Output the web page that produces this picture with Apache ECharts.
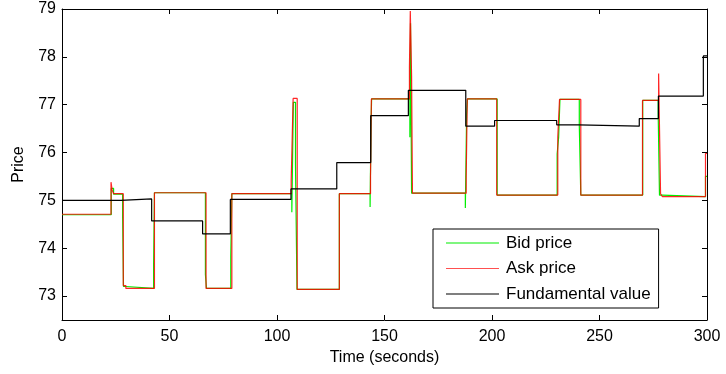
<!DOCTYPE html>
<html>
<head>
<meta charset="utf-8">
<script src="https://cdn.jsdelivr.net/npm/echarts@6/dist/echarts.min.js"></script>
<style>
  html, body { margin: 0; padding: 0; background: #fff; }
  #chart { width: 726px; height: 374px; }
</style>
</head>
<body>
<div id="chart"></div>
<script>
// bid / ask / fundamental value (step series)
const bidTime = [0, 22.9, 24.0, 28.2, 28.6, 29.7, 42.6, 43.0, 66.7, 67.2, 78.5, 79.0, 106.9, 107.6, 108.6, 109.3, 129.0, 143.3, 143.7, 144.0, 161.8, 162.1, 162.6, 187.6, 188.2, 188.6, 202.4, 230.3, 231.0, 231.6, 240.6, 241.3, 270.1, 277.3, 277.9, 279.2, 299.3, 300]
const bidPrice = [74.70, 75.25, 75.13, 74.65, 73.20, 73.16, 73.63, 75.16, 73.45, 73.16, 73.84, 75.14, 74.75, 77.05, 75.75, 73.14, 75.14, 74.86, 76.50, 77.12, 76.32, 78.70, 75.15, 74.84, 76.80, 77.12, 75.11, 75.97, 76.32, 77.11, 76.57, 75.11, 77.09, 76.80, 75.11, 75.08, 75.50, 75.50]

const askTime = [0, 22.8, 23.3, 24.0, 28.5, 29.7, 43.0, 67.0, 79.0, 106.6, 107.5, 109.4, 129.0, 143.5, 143.9, 161.6, 162.0, 162.6, 163.0, 188.0, 188.5, 202.2, 230.6, 231.4, 241.3, 270.0, 277.5, 278.4, 279.2, 299.3, 300]
const askPrice = [74.71, 75.38, 75.22, 75.14, 73.22, 73.16, 75.16, 73.16, 75.14, 75.41, 77.13, 73.14, 75.14, 75.50, 77.12, 77.80, 78.96, 77.60, 75.15, 75.50, 77.12, 75.11, 76.32, 77.11, 75.11, 77.09, 77.65, 75.14, 75.08, 75.98, 75.98]

const fundTime = [0, 27.4, 41.7, 65.4, 78.3, 106.5, 127.8, 143.6, 161.1, 187.8, 201.2, 230.1, 240.2, 268.5, 277.4, 298.3, 300]
const fundValue = [75.00, 75.03, 74.57, 74.30, 75.02, 75.24, 75.79, 76.77, 77.30, 76.55, 76.67, 76.58, 76.55, 76.71, 77.18, 78.02, 78.02]

const yTicks = [73, 74, 75, 76, 77, 78, 79]

const font = 'Liberation Sans, Arial, Helvetica, sans-serif'

function pairs (xs, ys) {
  return xs.map((x, i) => [x, ys[i]])
}

const chart = echarts.init(document.getElementById('chart'))

const xBase = {
  type: 'value',
  min: 0,
  max: 300,
  interval: 50,
  axisLine: { show: true, onZero: false, lineStyle: { color: '#000', width: 1 } },
  axisTick: { show: true, inside: true, length: 5, lineStyle: { color: '#000' } },
  splitLine: { show: false }
}
const yBase = {
  type: 'value',
  min: 72.5,
  max: 79,
  axisLine: { show: true, onZero: false, lineStyle: { color: '#000', width: 1 } },
  axisTick: { show: true, inside: true, length: 5, customValues: yTicks, lineStyle: { color: '#000' } },
  splitLine: { show: false }
}

chart.setOption({
  animation: false,
  backgroundColor: '#fff',
  grid: { left: 62, right: 19, top: 9, bottom: 54 },
  xAxis: [
    Object.assign({}, xBase, {
      position: 'bottom',
      name: 'Time (seconds)',
      nameLocation: 'middle',
      nameGap: 27,
      nameTextStyle: { fontFamily: font, fontSize: 16, color: '#000' },
      axisLabel: { fontFamily: font, fontSize: 16, color: '#000', margin: 9 }
    }),
    Object.assign({}, xBase, { position: 'top', axisLabel: { show: false } })
  ],
  yAxis: [
    Object.assign({}, yBase, {
      position: 'left',
      name: 'Price',
      nameLocation: 'middle',
      nameGap: 35,
      nameTextStyle: { fontFamily: font, fontSize: 16, color: '#000' },
      axisLabel: { fontFamily: font, fontSize: 16, color: '#000', margin: 6, customValues: yTicks }
    }),
    Object.assign({}, yBase, { position: 'right', axisLabel: { show: false } })
  ],
  legend: {
    orient: 'vertical',
    left: 433,
    top: 229,
    padding: [5.5, 8, 5.5, 13],
    icon: 'rect',
    itemWidth: 53,
    itemHeight: 1.2,
    itemGap: 8.5,
    borderColor: '#000',
    borderWidth: 1,
    borderRadius: 0,
    backgroundColor: '#fff',
    textStyle: { fontFamily: font, fontSize: 17, color: '#000', padding: [0, 0, 0, 2] },
    data: [
      { name: 'Bid price', itemStyle: { color: '#00ee00', opacity: 1 } },
      { name: 'Ask price', itemStyle: { color: '#ff5050', opacity: 1 } },
      { name: 'Fundamental value', itemStyle: { color: '#000', opacity: 1 } }
    ]
  },
  series: [
    {
      name: 'Bid price',
      type: 'line',
      step: 'end',
      symbol: 'none',
      data: pairs(bidTime, bidPrice),
      lineStyle: { color: '#00ee00', width: 1.2 },
      itemStyle: { color: '#00ee00' },
      z: 2
    },
    {
      name: 'Ask price',
      type: 'line',
      step: 'end',
      symbol: 'none',
      data: pairs(askTime, askPrice),
      lineStyle: { color: '#ff0000', width: 1.2, opacity: 0.85 },
      itemStyle: { color: '#ff5050', opacity: 1 },
      z: 3
    },
    {
      name: 'Fundamental value',
      type: 'line',
      step: 'end',
      symbol: 'none',
      data: pairs(fundTime, fundValue),
      lineStyle: { color: '#000', width: 1.2 },
      itemStyle: { color: '#000' },
      z: 4
    }
  ]
})
</script>
</body>
</html>
